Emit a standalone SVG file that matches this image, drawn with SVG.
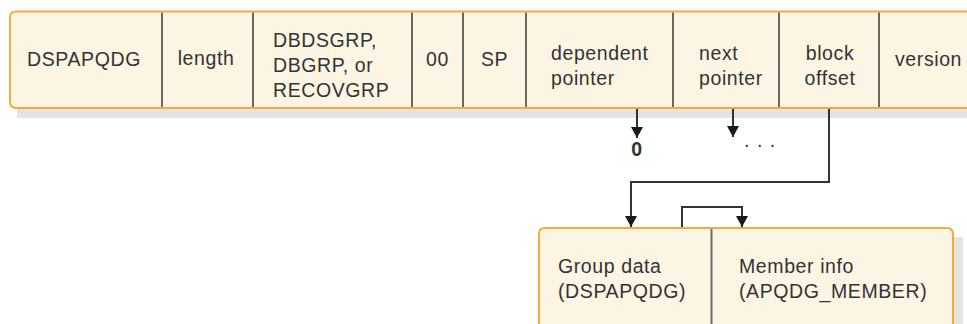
<svg xmlns="http://www.w3.org/2000/svg" width="967" height="324" viewBox="0 0 967 324">
<defs>
<marker id="ah" markerUnits="userSpaceOnUse" markerWidth="12" markerHeight="12" refX="11" refY="6" orient="auto">
<path d="M0,0 L11,6 L0,12 z" fill="#1a1a1a"/>
</marker>
<style>
.box{fill:#fdf5e3;stroke:#f5ab3c;stroke-width:2}
.shadow{fill:#e4e4e4}
.div{stroke:#6a6a62;stroke-width:2}
.t{font-family:"Liberation Sans",Arial,sans-serif;font-size:19.5px;fill:#333;letter-spacing:0.6px}
.c{stroke:#333;stroke-width:2;fill:none}
</style>
</defs>
<rect width="967" height="324" fill="#ffffff"/>
<g id="record">
<rect class="shadow" x="17" y="100" width="960" height="18"/>
<path class="box" d="M975,11.5 L16,11.5 Q10,11.5 10,17.5 L10,102 Q10,108 16,108 L975,108"/>
<line class="div" x1="162" y1="12.5" x2="162" y2="107"/>
<line class="div" x1="253" y1="12.5" x2="253" y2="107"/>
<line class="div" x1="412" y1="12.5" x2="412" y2="107"/>
<line class="div" x1="463" y1="12.5" x2="463" y2="107"/>
<line class="div" x1="526" y1="12.5" x2="526" y2="107"/>
<line class="div" x1="673" y1="12.5" x2="673" y2="107"/>
<line class="div" x1="779" y1="12.5" x2="779" y2="107"/>
<line class="div" x1="879" y1="12.5" x2="879" y2="107"/>
</g>
<g id="f-dspapqdg"><text class="t" x="84" y="66" text-anchor="middle">DSPAPQDG</text></g>
<g id="f-length"><text class="t" x="206" y="65" text-anchor="middle">length</text></g>
<g id="f-type"><text class="t" x="273" y="47">DBDSGRP,</text><text class="t" x="273" y="72">DBGRP, or</text><text class="t" x="273" y="97">RECOVGRP</text></g>
<g id="f-00"><text class="t" x="437.5" y="66" text-anchor="middle">00</text></g>
<g id="f-sp"><text class="t" x="494.5" y="66" text-anchor="middle">SP</text></g>
<g id="f-dep"><text class="t" x="551" y="60">dependent</text><text class="t" x="551" y="85">pointer</text></g>
<g id="f-next"><text class="t" x="699" y="60">next</text><text class="t" x="699" y="85">pointer</text></g>
<g id="f-block"><text class="t" x="830" y="60" text-anchor="middle">block</text><text class="t" x="830" y="85" text-anchor="middle">offset</text></g>
<g id="f-version"><text class="t" x="895" y="66">version</text></g>
<g id="member-block">
<rect class="shadow" x="547" y="237" width="416" height="100"/>
<path class="box" d="M539,340 L539,234 Q539,228 545,228 L947,228 Q953,228 953,234 L953,340"/>
<line class="div" x1="711.5" y1="229" x2="711.5" y2="330"/>
</g>
<g id="group-data"><text class="t" x="558" y="273">Group data</text><text class="t" x="558" y="298">(DSPAPQDG)</text></g>
<g id="member-info"><text class="t" x="739" y="273">Member info</text><text class="t" x="739" y="298">(APQDG_MEMBER)</text></g>
<g id="labels">
<text class="t" x="637" y="156" text-anchor="middle" style="font-weight:bold">0</text>
<text class="t" x="744" y="147" style="letter-spacing:7.5px">...</text>
</g>
<g id="connectors">
<path class="c" d="M637,109 L637,138" marker-end="url(#ah)"/>
<path class="c" d="M733,109 L733,137" marker-end="url(#ah)"/>
<path class="c" d="M829,109 L829,182 L631,182 L631,227" marker-end="url(#ah)"/>
<path class="c" d="M682,227 L682,207 L742,207 L742,227" marker-end="url(#ah)"/>
</g>
</svg>
